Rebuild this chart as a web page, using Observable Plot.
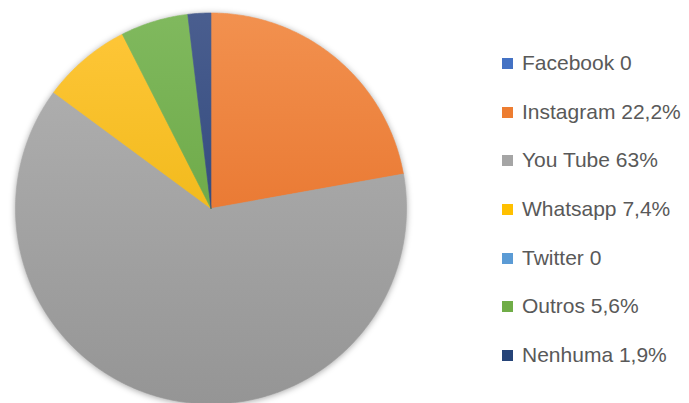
<!DOCTYPE html>
<html>
<head>
<meta charset="utf-8">
<script src="https://cdn.jsdelivr.net/npm/d3@7"></script>
<script src="https://cdn.jsdelivr.net/npm/@observablehq/plot@0.6"></script>
<style>
  html, body { margin: 0; padding: 0; background: #fff; }
  #wrap { position: relative; width: 689px; height: 403px; overflow: hidden; }
  #legend { position: absolute; left: 502px; top: 0; font-family: "Liberation Sans", Arial, sans-serif; font-size: 21px; color: #595959; }
  .item { position: absolute; left: 0; white-space: nowrap; display: flex; align-items: center; }
  .sw { width: 11px; height: 11px; margin-right: 9px; flex: none; }
</style>
</head>
<body>
<div id="wrap"><div id="legend"></div></div>
<script>
const categories = ["Facebook", "Instagram", "You Tube", "Whatsapp", "Twitter", "Outros", "Nenhuma"];
const values = [0, 22.2, 63, 7.4, 0, 5.6, 1.9];
const labels = ["Facebook 0", "Instagram 22,2%", "You Tube 63%", "Whatsapp 7,4%", "Twitter 0", "Outros 5,6%", "Nenhuma 1,9%"];
const legendColors = ["#4472C4", "#ED7D31", "#A5A5A5", "#FFC000", "#5B9BD5", "#70AD47", "#264478"];
const gradTop = ["#5A82CC", "#F2914F", "#B3B3B3", "#FFC73A", "#6FA8DC", "#80B95E", "#4A5E8F"];
const gradBottom = ["#3563B5", "#E2641A", "#959595", "#E5AE00", "#4A8AC8", "#5E9C36", "#1F3A70"];

const data = categories.map((c, i) => ({name: c, value: values[i], i}));
const arcs = d3.pie().sort(null).value(d => d.value)(data);

// polygon points for each slice, computed from the pie angles
function slicePoints(a) {
  const pts = [{name: a.data.name, x: 0, y: 0}];
  const n = Math.max(2, Math.ceil((a.endAngle - a.startAngle) / 0.01));
  for (let k = 0; k <= n; k++) {
    const t = a.startAngle + (a.endAngle - a.startAngle) * k / n;
    pts.push({name: a.data.name, x: Math.sin(t), y: Math.cos(t)});
  }
  pts.push({name: a.data.name, x: 0, y: 0});
  return pts;
}

const slices = arcs.filter(a => a.data.value > 0);

const plot = Plot.plot({
  width: 430,
  height: 403,
  margin: 0,
  x: {domain: [-1, 1], range: [15, 406], axis: null},
  y: {domain: [-1, 1], range: [403.5, 12.5], axis: null},
  marks: slices.map(a => Plot.line(slicePoints(a), {
    x: "x", y: "y",
    fill: `url(#g${a.data.i})`,
    stroke: `url(#g${a.data.i})`,
    strokeWidth: 0.6,
    curve: "linear"
  }))
});

// gradients spanning the pie vertically
const ys = plot.scale("y");
const yTop = ys.apply(1), yBot = ys.apply(-1);
const ns = "http://www.w3.org/2000/svg";
const defs = document.createElementNS(ns, "defs");
categories.forEach((c, i) => {
  const g = document.createElementNS(ns, "linearGradient");
  g.setAttribute("id", "g" + i);
  g.setAttribute("gradientUnits", "userSpaceOnUse");
  g.setAttribute("x1", 0); g.setAttribute("x2", 0);
  g.setAttribute("y1", yTop); g.setAttribute("y2", yBot);
  [[0, gradTop[i]], [1, gradBottom[i]]].forEach(([o, col]) => {
    const s = document.createElementNS(ns, "stop");
    s.setAttribute("offset", o);
    s.setAttribute("stop-color", col);
    g.appendChild(s);
  });
  defs.appendChild(g);
});
plot.insertBefore(defs, plot.firstChild);
plot.style.filter = "drop-shadow(0px 1px 3px rgba(0,0,0,0.35))";
plot.style.overflow = "visible";
plot.style.position = "absolute";
plot.style.left = "0px";
plot.style.top = "0px";
document.getElementById("wrap").appendChild(plot);

// legend
const legend = document.getElementById("legend");
const rowY = [63, 112, 160, 209, 258, 306, 355];
labels.forEach((l, i) => {
  const it = document.createElement("div");
  it.className = "item";
  it.style.top = (rowY[i] - 12) + "px";
  it.style.height = "24px";
  const sw = document.createElement("span");
  sw.className = "sw";
  sw.style.background = legendColors[i];
  const tx = document.createElement("span");
  tx.textContent = l;
  it.appendChild(sw); it.appendChild(tx);
  legend.appendChild(it);
});
</script>
</body>
</html>
